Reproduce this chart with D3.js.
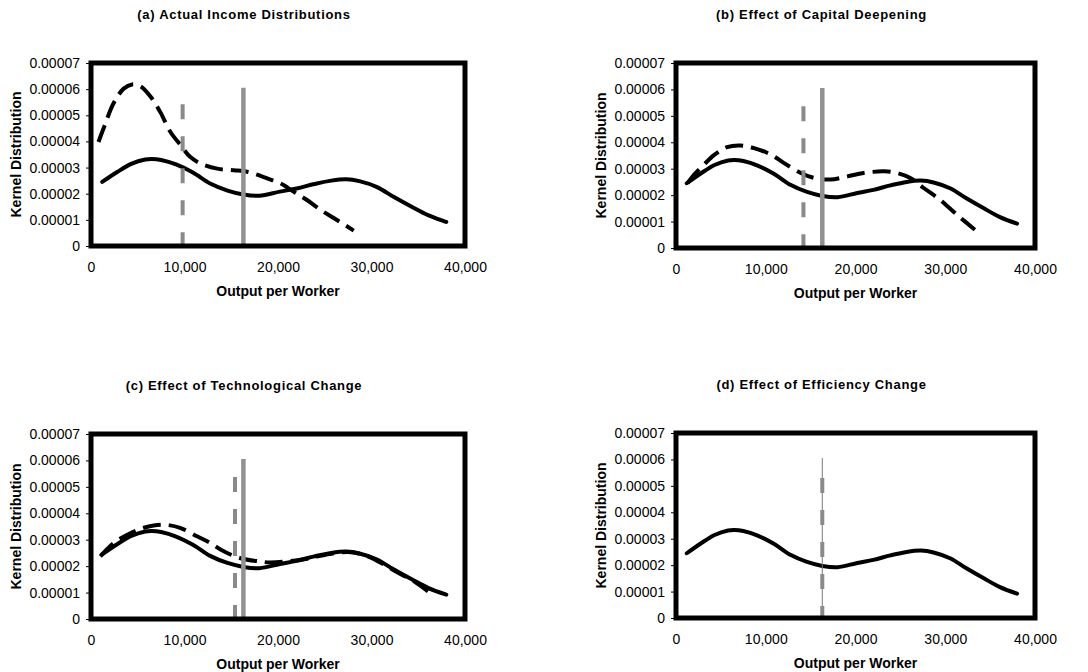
<!DOCTYPE html>
<html>
<head>
<meta charset="utf-8">
<script src="https://cdn.jsdelivr.net/npm/d3@7"></script>
<style>
	body { margin: 0; background: #fff; }
	svg { display: block; font-family: Arial, "Liberation Sans", sans-serif; }
</style>
</head>
<body>
<div id="chart"></div>
<script>
//kernel distributions of output per worker

//tick labels
var xTicks = [0, 10000, 20000, 30000, 40000];
var xTickLabels = ["0", "10,000", "20,000", "30,000", "40,000"];
var yTicks = [0, 1e-5, 2e-5, 3e-5, 4e-5, 5e-5, 6e-5, 7e-5];
var yTickLabels = ["0", "0.00001", "0.00002", "0.00003", "0.00004", "0.00005", "0.00006", "0.00007"];

//panel titles
var panelTitles = [
	"(a) Actual Income Distributions",
	"(b) Effect of Capital Deepening",
	"(c) Effect of Technological Change",
	"(d) Effect of Efficiency Change"
];

//solid curve (same in all four panels)
var solidCurve = [
	[1200, 2.45e-5], [2800, 2.83e-5], [4300, 3.14e-5], [5800, 3.31e-5], [6500, 3.33e-5],
	[7500, 3.29e-5], [9100, 3.12e-5], [10900, 2.81e-5], [12800, 2.38e-5], [14600, 2.12e-5],
	[16300, 1.97e-5], [18000, 1.92e-5], [20200, 2.08e-5], [22000, 2.2e-5], [23900, 2.37e-5],
	[25700, 2.5e-5], [27300, 2.55e-5], [28700, 2.48e-5], [30600, 2.25e-5], [32400, 1.87e-5],
	[34300, 1.5e-5], [36100, 1.17e-5], [38000, 0.92e-5]
];

//dashed curves, one per panel (none drawn in d)
var dashedA = [
	[800, 3.98e-5], [1400, 4.55e-5], [2400, 5.45e-5], [3500, 6.02e-5], [4400, 6.18e-5],
	[5300, 6.11e-5], [6400, 5.7e-5], [7400, 5.13e-5], [8500, 4.36e-5], [9600, 3.85e-5],
	[10600, 3.41e-5], [11700, 3.16e-5], [13500, 2.96e-5], [15300, 2.9e-5], [16700, 2.84e-5],
	[18900, 2.58e-5], [20300, 2.39e-5], [21700, 2.07e-5], [23100, 1.76e-5], [24600, 1.37e-5],
	[26000, 1.06e-5], [28100, 0.59e-5]
];
var dashedB = [
	[1300, 2.46e-5], [2000, 2.77e-5], [3100, 3.15e-5], [4300, 3.53e-5], [5700, 3.82e-5],
	[7200, 3.88e-5], [8700, 3.78e-5], [10600, 3.53e-5], [12000, 3.22e-5], [13900, 2.84e-5],
	[15400, 2.65e-5], [17200, 2.59e-5], [19100, 2.71e-5], [20900, 2.84e-5], [23200, 2.9e-5],
	[24600, 2.84e-5], [26100, 2.65e-5], [27600, 2.27e-5], [29400, 1.83e-5], [31300, 1.26e-5],
	[33300, 0.69e-5]
];
var dashedC = [
	[1000, 2.37e-5], [2400, 2.87e-5], [3900, 3.19e-5], [5300, 3.41e-5], [6700, 3.54e-5],
	[8100, 3.56e-5], [9600, 3.44e-5], [11400, 3.12e-5], [12800, 2.87e-5], [14200, 2.56e-5],
	[16000, 2.3e-5], [18000, 2.18e-5], [19200, 2.14e-5], [22400, 2.24e-5], [26000, 2.49e-5],
	[27800, 2.53e-5], [29600, 2.37e-5], [31400, 2.05e-5], [32800, 1.76e-5], [34600, 1.42e-5],
	[36500, 0.92e-5]
];
var dashedCurves = [dashedA, dashedB, dashedC, null];

//vertical mean markers: [x, top]
var solidMean = [16300, 6.05e-5];
var dashedMeans = [[9800, 5.42e-5], [14200, 5.36e-5], [15400, 5.37e-5], [16300, 5.3e-5]];

var width = 1088, height = 672;

var svg = d3.select('#chart').append('svg')
	.attr('width', width)
	.attr('height', height);

//plot area boxes for the four panels
var boxes = [
	{ left: 91, right: 465, top: 63, bottom: 246 },
	{ left: 676, right: 1035, top: 63, bottom: 248 },
	{ left: 91, right: 465, top: 434, bottom: 619 },
	{ left: 676, right: 1035, top: 433, bottom: 618 }
];

boxes.forEach(function(b, i) {
	drawPanel(b, i);
});

function drawPanel(b, i) {
	var g = svg.append('g');

	//create scales
	var x = d3.scaleLinear().domain([0, 40000]).range([b.left, b.right]);
	var y = d3.scaleLinear().domain([0, 7e-5]).range([b.bottom, b.top]);

	//title
	g.append('text')
		.attr('x', (b.left + b.right) / 2 - 34)
		.attr('y', b.top - 44)
		.attr('text-anchor', 'middle')
		.style('font-size', '13px')
		.style('font-weight', 'bold')
		.style('letter-spacing', '0.7px')
		.text(panelTitles[i]);

	//axes
	var yAxis = g.append('g')
		.attr('transform', 'translate(' + b.left + ',0)')
		.call(d3.axisLeft(y)
			.tickValues(yTicks)
			.tickSize(5)
			.tickPadding(6)
			.tickFormat(function(d, k) { return yTickLabels[k]; }));
	yAxis.select('.domain').remove();
	yAxis.selectAll('text')
		.style('font-size', '14px')
		.attr('fill', '#000');
	yAxis.selectAll('line').attr('stroke', '#000');

	var xAxis = g.append('g')
		.attr('transform', 'translate(0,' + b.bottom + ')')
		.call(d3.axisBottom(x)
			.tickValues(xTicks)
			.tickSize(0)
			.tickPadding(16)
			.tickFormat(function(d, k) { return xTickLabels[k]; }));
	xAxis.select('.domain').remove();
	xAxis.selectAll('text')
		.style('font-size', '14px')
		.attr('fill', '#000');

	//axis titles
	g.append('text')
		.attr('x', (b.left + b.right) / 2)
		.attr('y', b.bottom + 50)
		.attr('text-anchor', 'middle')
		.style('font-size', '14px')
		.style('font-weight', 'bold')
		.text('Output per Worker');

	g.append('text')
		.attr('transform', 'translate(' + (b.left - 70) + ',' + ((b.top + b.bottom) / 2) + ') rotate(-90)')
		.attr('text-anchor', 'middle')
		.style('font-size', '14px')
		.style('font-weight', 'bold')
		.text('Kernel Distribution');

	var line = d3.line()
		.x(function(d) { return x(d[0]); })
		.y(function(d) { return y(d[1]); })
		.curve(d3.curveCatmullRom);

	//curves
	g.append('path')
		.datum(solidCurve)
		.attr('d', line)
		.attr('fill', 'none')
		.attr('stroke', '#000')
		.attr('stroke-width', 4)
		.attr('stroke-linecap', 'round');

	if (dashedCurves[i]) {
		g.append('path')
			.datum(dashedCurves[i])
			.attr('d', line)
			.attr('fill', 'none')
			.attr('stroke', '#000')
			.attr('stroke-width', 4)
			.attr('stroke-dasharray', '18,8');
	}

	//solid mean marker (thin line in d), drawn over the curves
	g.append('line')
		.attr('x1', x(solidMean[0])).attr('x2', x(solidMean[0]))
		.attr('y1', y(0)).attr('y2', y(solidMean[1]))
		.attr('stroke', i == 3 ? '#777' : '#929292')
		.attr('stroke-width', i == 3 ? 1 : 4.5);

	//dashed mean marker
	var dm = dashedMeans[i];
	g.append('line')
		.attr('x1', x(dm[0])).attr('x2', x(dm[0]))
		.attr('y1', y(dm[1])).attr('y2', y(0))
		.attr('stroke', '#8a8a8a')
		.attr('stroke-width', 4)
		.attr('stroke-dasharray', '15,17');

	//thick plot-area frame
	g.append('rect')
		.attr('x', b.left)
		.attr('y', b.top)
		.attr('width', b.right - b.left)
		.attr('height', b.bottom - b.top)
		.attr('fill', 'none')
		.attr('stroke', '#000')
		.attr('stroke-width', 5);
}
</script>
</body>
</html>
